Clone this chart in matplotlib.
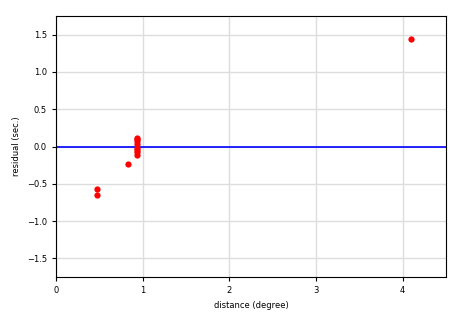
import matplotlib
matplotlib.use("Agg")
import matplotlib.pyplot as plt

distance = [0.47, 0.47, 0.83, 0.93, 0.93, 0.93, 0.93, 0.93, 0.93, 0.93, 0.93, 4.10]
residual = [-0.57, -0.65, -0.24, 0.12, 0.10, 0.07, 0.04, -0.02, -0.05, -0.08, -0.12, 1.44]

fig = plt.figure(figsize=(4.65, 3.15), dpi=100)
ax = fig.add_axes([56/465, 1 - 277/315, 390/465, 261/315])
ax.grid(True, color="#dddddd", linewidth=1)
ax.set_axisbelow(True)
ax.axhline(0, color="blue", linewidth=1.2)
ax.plot(distance, residual, "o", color="red", markersize=4.5, markeredgewidth=0)
ax.set_xlim(0, 4.5)
ax.set_ylim(-1.75, 1.75)
ax.set_xticks([0, 1, 2, 3, 4])
ax.set_yticks([-1.5, -1.0, -0.5, 0.0, 0.5, 1.0, 1.5])
ax.tick_params(labelsize=6, length=3)
ax.set_xlabel("distance (degree)", fontsize=6)
ax.set_ylabel("residual (sec.)", fontsize=6)
fig.savefig("out.png", dpi=100)
